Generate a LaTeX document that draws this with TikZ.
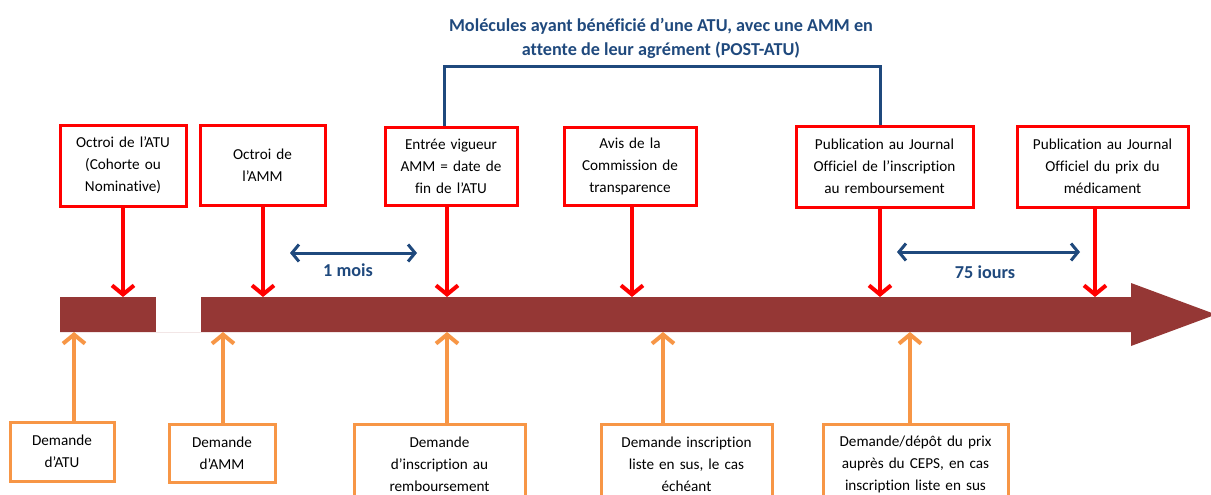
\documentclass[tikz,border=0pt]{standalone}
\usepackage{fontspec}
\setmainfont{Carlito}[RawFeature=-liga]
\usetikzlibrary{arrows.meta}
\definecolor{barred}{HTML}{953735}
\definecolor{boxred}{HTML}{FF0000}
\definecolor{boxorange}{HTML}{F79646}
\definecolor{darkblue}{HTML}{1F497D}
\tikzset{
  redbox/.style={draw=boxred, line width=3pt, fill=white, align=center, inner sep=2pt,
    font=\fontsize{15.2}{22}\selectfont},
  orangebox/.style={draw=boxorange, line width=3pt, fill=white, align=center, inner sep=2pt,
    font=\fontsize{15.2}{22}\selectfont},
  redarrow/.style={draw=boxred, line width=4pt, -{Straight Barb[length=9pt,width=22pt]}},
  orangearrow/.style={draw=boxorange, line width=4pt, -{Straight Barb[length=9pt,width=22pt]}},
  bluearrow/.style={draw=darkblue, line width=3pt, {Straight Barb[length=7pt,width=17pt]}-{Straight Barb[length=7pt,width=17pt]}},
  bluebracket/.style={draw=darkblue, line width=3pt},
  bluelabel/.style={text=darkblue, font=\bfseries\fontsize{18.2}{24}\selectfont, align=center}
}
\begin{document}
\begin{tikzpicture}[x=1pt,y=-1pt]
\useasboundingbox (0,0) rectangle (1211,495);
% timeline bar
\fill[barred] (60,297) -- (1131,297) -- (1131,283) -- (1216,314.5) -- (1131,346) -- (1131,332) -- (60,332) -- cycle;
\fill[white] (156,297) rectangle (201,332);
% top red boxes
\node[redbox, minimum width=126pt, minimum height=81pt, text width=118pt] (b1) at (123,165.5) {Octroi de l’ATU\\(Cohorte ou\\Nominative)};
\node[redbox, minimum width=125pt, minimum height=80pt, text width=117pt] (b2) at (262.5,165) {Octroi de\\l’AMM};
\node[redbox, minimum width=132pt, minimum height=78pt, text width=124pt] (b3) at (451,166) {Entrée vigueur\\AMM = date de\\fin de l’ATU};
\node[redbox, minimum width=132pt, minimum height=78pt, text width=124pt] (b4) at (630,166) {Avis de la\\Commission de\\transparence};
\node[redbox, minimum width=177pt, minimum height=81pt, text width=169pt] (b5) at (884.5,166.5) {Publication au Journal\\Officiel de l’inscription\\au remboursement};
\node[redbox, minimum width=171pt, minimum height=81pt, text width=163pt] (b6) at (1102.5,166.5) {Publication au Journal\\Officiel du prix du\\médicament};
% red arrow targets on bar
\coordinate (t1) at (123,297);
\coordinate (t2) at (263,297);
\coordinate (t3) at (447,297);
\coordinate (t4) at (632,297);
\coordinate (t5) at (880,297);
\coordinate (t6) at (1095,297);
\draw[redarrow] (b1.south -| t1) -- (t1);
\draw[redarrow] (b2.south -| t2) -- (t2);
\draw[redarrow] (b3.south -| t3) -- (t3);
\draw[redarrow] (b4.south -| t4) -- (t4);
\draw[redarrow] (b5.south -| t5) -- (t5);
\draw[redarrow] (b6.south -| t6) -- (t6);
% bottom orange boxes
\node[orangebox, minimum width=104pt, minimum height=59pt, text width=96pt] (o1) at (62,451.5) {Demande\\d’ATU};
\node[orangebox, minimum width=106pt, minimum height=58pt, text width=98pt] (o2) at (222,453) {Demande\\d’AMM};
\node[orangebox, minimum width=171pt, minimum height=81pt, text width=163pt] (o3) at (439.5,464.5) {Demande\\d’inscription au\\remboursement};
\node[orangebox, minimum width=171pt, minimum height=81pt, text width=163pt] (o4) at (686.5,464.5) {Demande inscription\\liste en sus, le cas\\échéant};
\node[orangebox, minimum width=185pt, minimum height=81pt, text width=177pt] (o5) at (915.5,464.5) {Demande/dépôt du prix\\auprès du CEPS, en cas\\inscription liste en sus};
\coordinate (u1) at (74,332);
\coordinate (u2) at (223,332);
\coordinate (u3) at (447,332);
\coordinate (u4) at (663,332);
\coordinate (u5) at (910,332);
\draw[orangearrow] (o1.north -| u1) -- (u1);
\draw[orangearrow] (o2.north -| u2) -- (u2);
\draw[orangearrow] (o3.north -| u3) -- (u3);
\draw[orangearrow] (o4.north -| u4) -- (u4);
\draw[orangearrow] (o5.north -| u5) -- (u5);
% bracket and title
\node[bluelabel] (title) at (661,38) {Molécules ayant bénéficié d’une ATU, avec une AMM en\\attente de leur agrément (POST-ATU)};
\coordinate (bl) at (444,67);
\coordinate (br) at (880,67);
\draw[bluebracket] (b3.north -| bl) -- (bl) -- (br) -- (b5.north -| br);
% durations
\coordinate (m1) at (290,253);
\coordinate (m2) at (417,253);
\draw[bluearrow] (m1) -- (m2);
\node[bluelabel] (mois) at (348,270) {1 mois};
\coordinate (j1) at (897,252);
\coordinate (j2) at (1080,252);
\draw[bluearrow] (j1) -- (j2);
\node[bluelabel] (jours) at (985,272) {75 iours};
\end{tikzpicture}
\end{document}
